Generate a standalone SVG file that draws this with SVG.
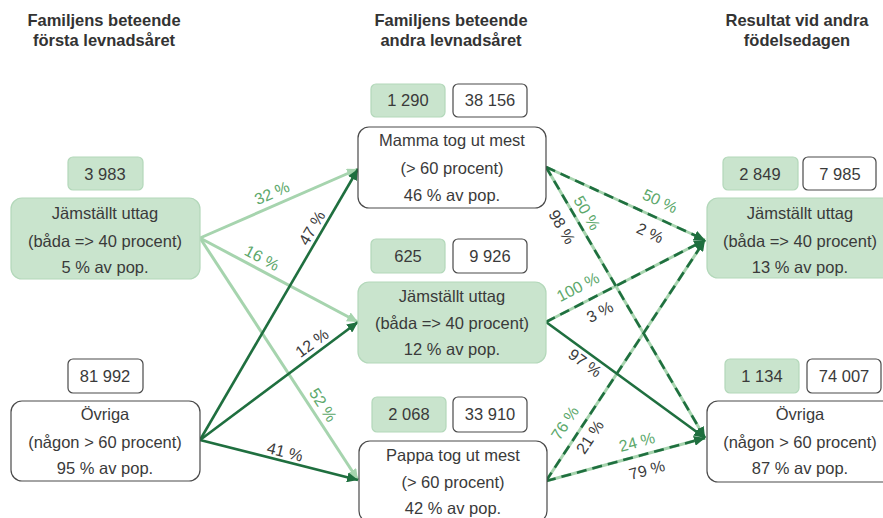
<svg xmlns="http://www.w3.org/2000/svg" width="883" height="518" viewBox="0 0 883 518">
<defs>
<style>
text{font-family:"Liberation Sans",Arial,sans-serif;fill:#333}
.h{font-weight:bold;font-size:16.5px;text-anchor:middle}
.t{font-size:16.5px;text-anchor:middle;fill:#3a3a3a}
.g{fill:#c9e4cd;stroke:#b3d8ba;stroke-width:1.2}
.w{fill:#fff;stroke:#4a4a4a;stroke-width:1.2}
.lt{stroke:#a6d4ae;stroke-width:3;fill:none}
.dk{stroke:#1f6f3f;stroke-width:2.6;fill:none}
.ds{stroke:#1f6f3f;stroke-width:2.6;fill:none;stroke-dasharray:10 6}
.lg{font-size:16px;text-anchor:middle;dominant-baseline:central;fill:#5ca86b}
.ld{font-size:16px;text-anchor:middle;dominant-baseline:central;fill:#3a3a3a}
</style>
<marker id="ad" markerUnits="userSpaceOnUse" markerWidth="12" markerHeight="10" refX="11" refY="5" orient="auto"><path d="M0,0 L11,5 L0,10 Z" fill="#1f6f3f"/></marker>
<marker id="al" markerUnits="userSpaceOnUse" markerWidth="12" markerHeight="10" refX="11" refY="5" orient="auto"><path d="M0,0 L11,5 L0,10 Z" fill="#a6d4ae"/></marker>
</defs>

<g id="headers">
<text class="h" x="104" y="26">Familjens beteende</text>
<text class="h" x="104" y="46">första levnadsåret</text>
<text class="h" x="451" y="26">Familjens beteende</text>
<text class="h" x="451" y="46">andra levnadsåret</text>
<text class="h" x="797" y="26">Resultat vid andra</text>
<text class="h" x="797" y="46">födelsedagen</text>
</g>

<g id="connectors">
<line class="lt" x1="200" y1="238" x2="358" y2="169" marker-end="url(#al)"/>
<line class="lt" x1="200" y1="238" x2="358" y2="322" marker-end="url(#al)"/>
<line class="lt" x1="200" y1="238" x2="358" y2="480" marker-end="url(#al)"/>
<line class="dk" x1="200" y1="440" x2="358" y2="169" marker-end="url(#ad)"/>
<line class="dk" x1="200" y1="440" x2="358" y2="322" marker-end="url(#ad)"/>
<line class="dk" x1="200" y1="440" x2="358" y2="480" marker-end="url(#ad)"/>

<line class="lt" x1="546" y1="167" x2="705" y2="240"/>
<line class="lt" x1="546" y1="167" x2="705" y2="438"/>
<line class="lt" x1="546" y1="322" x2="705" y2="240"/>
<line class="lt" x1="546" y1="481" x2="705" y2="240"/>
<line class="lt" x1="546" y1="481" x2="705" y2="438"/>
<line class="ds" x1="546" y1="167" x2="705" y2="240" marker-end="url(#ad)"/>
<line class="ds" x1="546" y1="167" x2="705" y2="438" marker-end="url(#ad)"/>
<line class="ds" x1="546" y1="322" x2="705" y2="240" marker-end="url(#ad)"/>
<line class="dk" x1="546" y1="322" x2="705" y2="438" marker-end="url(#ad)"/>
<line class="ds" x1="546" y1="481" x2="705" y2="240" marker-end="url(#ad)"/>
<line class="ds" x1="546" y1="481" x2="705" y2="438" marker-end="url(#ad)"/>

<text class="lg" x="272" y="193" transform="rotate(-23.6 272 193)">32 %</text>
<text class="lg" x="262" y="258" transform="rotate(28 262 258)">16 %</text>
<text class="lg" x="323" y="405" transform="rotate(57 323 405)">52 %</text>
<text class="ld" x="312" y="228" transform="rotate(-59.7 312 228)">47 %</text>
<text class="ld" x="312" y="343" transform="rotate(-36.5 312 343)">12 %</text>
<text class="ld" x="285" y="452" transform="rotate(14.2 285 452)">41 %</text>

<text class="lg" x="660" y="201" transform="rotate(24.6 660 201)">50 %</text>
<text class="ld" x="650" y="233" transform="rotate(24.6 650 233)">2 %</text>
<text class="lg" x="587" y="213" transform="rotate(59.6 587 213)">50 %</text>
<text class="ld" x="562" y="227" transform="rotate(59.6 562 227)">98 %</text>
<text class="lg" x="578" y="287" transform="rotate(-27.3 578 287)">100 %</text>
<text class="ld" x="600" y="312" transform="rotate(-27.3 600 312)">3 %</text>
<text class="ld" x="585" y="363" transform="rotate(36 585 363)">97 %</text>
<text class="lg" x="565" y="423" transform="rotate(-56.6 565 423)">76 %</text>
<text class="ld" x="590" y="437" transform="rotate(-56.6 590 437)">21 %</text>
<text class="lg" x="637" y="442" transform="rotate(-15.2 637 442)">24 %</text>
<text class="ld" x="647" y="470" transform="rotate(-15.2 647 470)">79 %</text>
</g>

<g id="left-jamstallt">
<rect class="g" x="68" y="157" width="75" height="33" rx="5"/>
<text class="t" x="105" y="180">3 983</text>
<rect class="g" x="11" y="198" width="189" height="81" rx="11"/>
<text class="t" x="105" y="219">Jämställt uttag</text>
<text class="t" x="105" y="247">(båda =&gt; 40 procent)</text>
<text class="t" x="105" y="273">5 % av pop.</text>
</g>

<g id="left-ovriga">
<rect class="w" x="68" y="359" width="75" height="34" rx="5"/>
<text class="t" x="105" y="382">81 992</text>
<rect class="w" x="11" y="401" width="189" height="80" rx="11"/>
<text class="t" x="105" y="420">Övriga</text>
<text class="t" x="105" y="448">(någon &gt; 60 procent)</text>
<text class="t" x="105" y="474">95 % av pop.</text>
</g>

<g id="mid-mamma">
<rect class="g" x="371" y="84" width="74" height="33" rx="5"/>
<text class="t" x="408" y="106">1 290</text>
<rect class="w" x="453" y="84" width="74" height="33" rx="5"/>
<text class="t" x="490" y="106">38 156</text>
<rect class="w" x="358" y="127" width="188" height="81" rx="11"/>
<text class="t" x="452" y="146">Mamma tog ut mest</text>
<text class="t" x="452" y="174">(&gt; 60 procent)</text>
<text class="t" x="452" y="201">46 % av pop.</text>
</g>

<g id="mid-jamstallt">
<rect class="g" x="371" y="239" width="74" height="34" rx="5"/>
<text class="t" x="408" y="262">625</text>
<rect class="w" x="453" y="239" width="74" height="34" rx="5"/>
<text class="t" x="490" y="262">9 926</text>
<rect class="g" x="358" y="282" width="188" height="81" rx="11"/>
<text class="t" x="452" y="302">Jämställt uttag</text>
<text class="t" x="452" y="329">(båda =&gt; 40 procent)</text>
<text class="t" x="452" y="355">12 % av pop.</text>
</g>

<g id="mid-pappa">
<rect class="g" x="372" y="397" width="74" height="35" rx="5"/>
<text class="t" x="409" y="420">2 068</text>
<rect class="w" x="453" y="397" width="74" height="35" rx="5"/>
<text class="t" x="490" y="420">33 910</text>
<rect class="w" x="359" y="441" width="188" height="81" rx="11"/>
<text class="t" x="453" y="461">Pappa tog ut mest</text>
<text class="t" x="453" y="488">(&gt; 60 procent)</text>
<text class="t" x="453" y="514">42 % av pop.</text>
</g>

<g id="right-jamstallt">
<rect class="g" x="723" y="157" width="75" height="33" rx="5"/>
<text class="t" x="760" y="180">2 849</text>
<rect class="w" x="803" y="157" width="73" height="33" rx="5"/>
<text class="t" x="840" y="180">7 985</text>
<rect class="g" x="707" y="198" width="188" height="80" rx="11"/>
<text class="t" x="800" y="219">Jämställt uttag</text>
<text class="t" x="800" y="247">(båda =&gt; 40 procent)</text>
<text class="t" x="800" y="273">13 % av pop.</text>
</g>

<g id="right-ovriga">
<rect class="g" x="725" y="359" width="74" height="34" rx="5"/>
<text class="t" x="762" y="382">1 134</text>
<rect class="w" x="807" y="359" width="74" height="34" rx="5"/>
<text class="t" x="844" y="382">74 007</text>
<rect class="w" x="707" y="401" width="188" height="81" rx="11"/>
<text class="t" x="800" y="420">Övriga</text>
<text class="t" x="800" y="448">(någon &gt; 60 procent)</text>
<text class="t" x="800" y="474">87 % av pop.</text>
</g>
</svg>
